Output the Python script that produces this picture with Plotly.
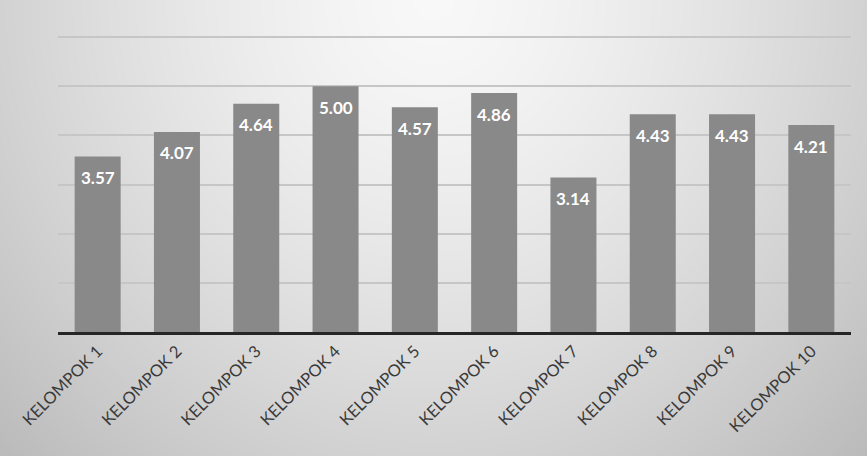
import numpy as np
import plotly.graph_objects as go

categories = ["KELOMPOK 1", "KELOMPOK 2", "KELOMPOK 3", "KELOMPOK 4", "KELOMPOK 5",
              "KELOMPOK 6", "KELOMPOK 7", "KELOMPOK 8", "KELOMPOK 9", "KELOMPOK 10"]
scores = [3.57, 4.07, 4.64, 5.00, 4.57, 4.86, 3.14, 4.43, 4.43, 4.21]
score_labels = [f"{v:.2f}" for v in scores]

W, H = 867, 456

# soft radial backdrop: brightest at the top centre, darker towards the corners
gx = np.linspace(0, 1, 160)
gy = np.linspace(0, 1, 100)
X, Y = np.meshgrid(gx, gy)
dist = np.sqrt(((X - 0.5) / 0.5) ** 2 + ((1.0 - Y) / 1.0) ** 2) / np.sqrt(2)
shade = 248 - 62 * np.clip(dist, 0, 1.0) ** 1.4

fig = go.Figure()

fig.add_trace(go.Heatmap(
    x=gx, y=gy, z=shade, zmin=0, zmax=255,
    colorscale=[[0, "rgb(0,0,0)"], [1, "rgb(255,255,255)"]],
    showscale=False, zsmooth="best", hoverinfo="skip",
    xaxis="x", yaxis="y",
))

fig.add_trace(go.Bar(
    x=categories, y=scores,
    marker=dict(color="#898989", line=dict(width=0)),
    xaxis="x2", yaxis="y2",
    hoverinfo="x+y",
))

for cat, v, lab in zip(categories, scores, score_labels):
    fig.add_annotation(
        x=cat, y=v, xref="x2", yref="y2", text=f"<b>{lab}</b>",
        showarrow=False, yanchor="middle", yshift=-21,
        font=dict(family="Lato, Open Sans, sans-serif", size=17, color="white"),
    )

y_top = 6.03
x0, x1 = 58 / W, 851 / W
y0 = 1 - 332 / H
y1 = y0 + (332 - 37) / H * (y_top / 6)

fig.update_layout(
    width=W, height=H,
    margin=dict(l=0, r=0, t=0, b=0, autoexpand=False),
    paper_bgcolor="#d8d8d8",
    plot_bgcolor="rgba(0,0,0,0)",
    showlegend=False,
    bargap=0.42,
    xaxis=dict(domain=[0, 1], range=[0, 1], visible=False, fixedrange=True),
    yaxis=dict(domain=[0, 1], range=[0, 1], visible=False, fixedrange=True),
    xaxis2=dict(
        domain=[x0, x1], anchor="y2", automargin=False,
        tickangle=-45,
        tickfont=dict(family="Lato, Open Sans, sans-serif", size=16.5, color="#3a3a3a"),
        showline=True, linecolor="#262626", linewidth=3,
        ticks="", showgrid=False,
    ),
    yaxis2=dict(
        domain=[y0, y1], anchor="x2", automargin=False,
        range=[0, y_top], dtick=1,
        showgrid=True, gridcolor="#c6c6c6", gridwidth=1.5,
        showticklabels=False, zeroline=False, ticks="",
    ),
)

fig.write_html("out.html")
